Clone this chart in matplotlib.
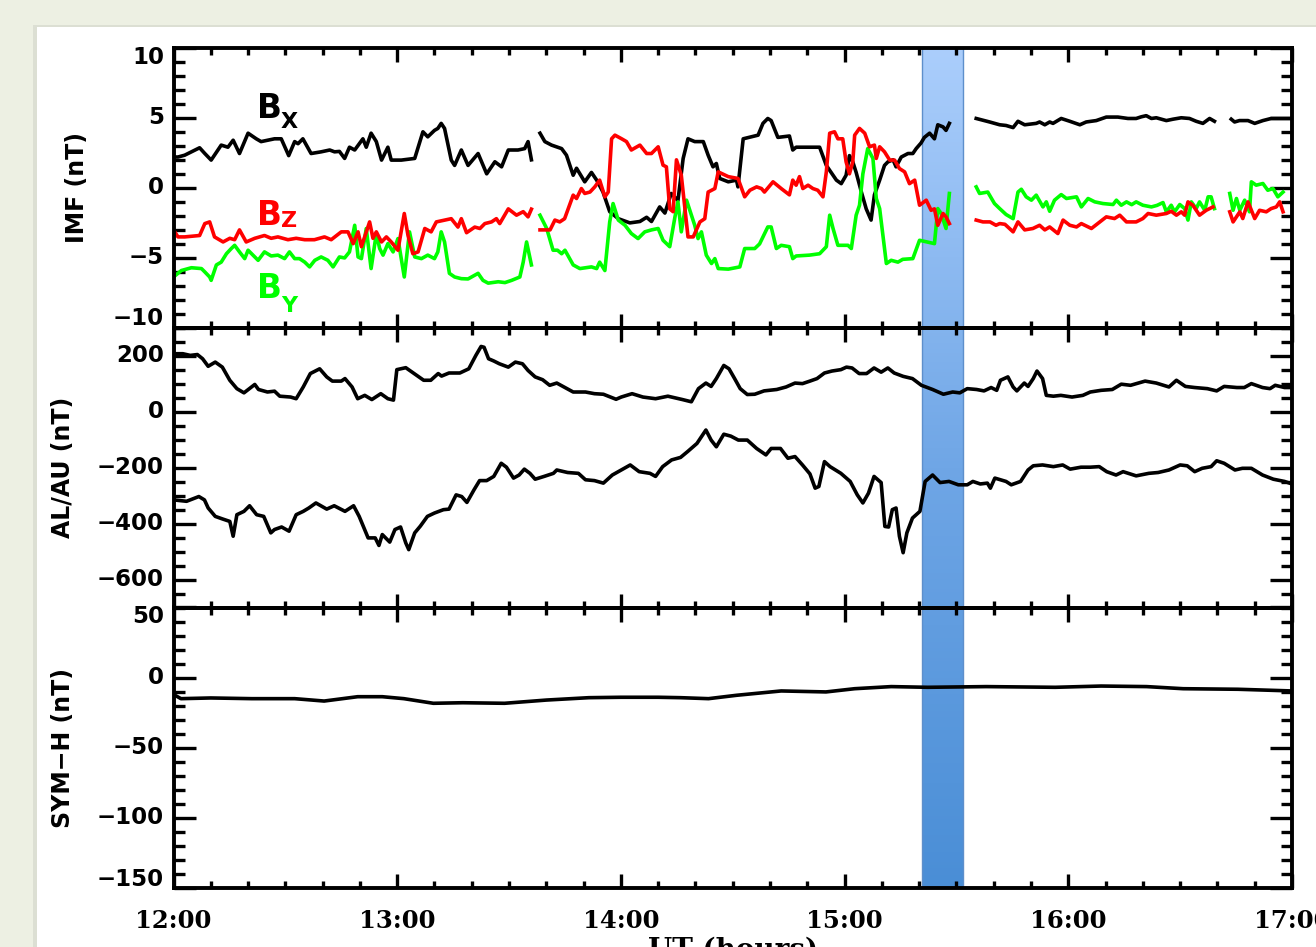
import numpy as np
import matplotlib
matplotlib.use('Agg')
import matplotlib.pyplot as plt
from matplotlib.ticker import MultipleLocator
from matplotlib.transforms import blended_transform_factory, ScaledTranslation
from matplotlib.patches import Rectangle
from matplotlib.colors import LinearSegmentedColormap

nan = np.nan

# ---------------- data (time in minutes after 12:00 UT) ----------------
bx_t = [0, 1.2, 3, 4.8, 7, 8.4, 10.1, 12.8, 14.6, 16, 17.7, 20, 22.2, 23.5, 27.1, 28.9, 30.9, 32.5, 33.4, 34.7,
        36.9, 39.6, 41.9, 43.2, 44.5, 45.9, 47.2, 48.6, 50.8, 51.7, 53, 54.4, 55.8, 57.5, 58.4, 61.1, 64.7, 66.9,
        68.2, 70, 70.9, 71.8, 72.7, 74.5, 75.4, 77.2, 79, 81.7, 84, 86.2, 88, 89.8, 92.4, 94.2, 95.1, 96, 97,
        98.3, 99.6, 101.4, 104.1, 105.4, 107.2, 108.1, 110.3, 112.1, 113.5, 115.2, 117, 119.3, 122.4, 125.1,
        126.9, 128.2, 130.4, 131.8, 133.5, 135.3, 136.7, 138, 139.8, 142.1, 143.4, 144.7, 145.6, 146.5, 148.8,
        151, 151.4, 152.8, 155, 156.8, 158.1, 159.4, 160.3, 162.1, 165.2, 166.1, 167, 173.3, 175.1, 177.8,
        179.1, 180.4, 181.3, 182.2, 183.1, 184.5, 185.8, 187.1, 188, 189.4, 190.7, 191.6, 193, 193.8, 195.2,
        197, 198.3, 199.2, 200.5, 201.4, 202.8, 204.1, 205, 206.4, 207.2, 208.1, 212,
        215.3, 218.9, 221.6, 223.3, 225.2, 226.5, 228.3, 231.4, 232.3, 233.7, 235, 235.9, 238.1, 240.4, 243.1,
        244.8, 247.5, 250.2, 253.3, 256, 258.2, 259.6, 260.9, 262.3, 263.6, 266.3, 268.1, 270.3, 272.5, 274.3,
        276.1, 277.9, 279.2, 281,
        283.7, 284.6, 285.9, 288.2, 290, 292.2, 294.4, 297.1, 300]
bx_v = [2.2, 2.2, 2.33, 2.57, 2.86, 2.45, 1.98, 3.05, 2.9, 3.4, 2.45, 3.9, 3.5, 3.3, 3.5, 3.5, 2.3, 3.3, 3.15, 3.5,
        2.45, 2.57, 2.7, 2.57, 2.6, 2.1, 2.9, 2.7, 3.5, 2.9, 3.9, 3.3, 1.98, 2.9, 1.98, 1.98, 2.1, 4.0,
        3.64, 4.1, 4.24, 4.6, 4.24, 1.98, 1.6, 2.7, 1.6, 2.45, 1.0, 1.86, 1.5, 2.7, 2.7, 2.8, 3.3, 2.0, nan,
        3.9, 3.3, 3.05, 2.8, 2.33, 0.9, 1.4, 0.43, 1.1, 0.55, -0.3, -1.7, -2.2, -2.5, -2.4,
        -2.1, -2.4, -1.36, -1.8, -0.4, -0.9, 2.1, 3.5, 3.3, 3.3, 2.33, 1.5, 1.74, 0.67, 0.43,
        0.55, 0.07, 3.5, 3.64, 3.76, 4.6, 4.95, 4.8, 3.6, 3.7, 2.7, 2.9, 2.9, 1.6, 0.55,
        0.3, 0.9, 2.3, 1.85, 1.1, -0.3, -1.5, -2.3, -0.5, 0.55, 1.6, 1.85, 2.0, 1.5, 2.2,
        2.45, 2.45, 2.8, 3.2, 3.6, 3.9, 3.5, 4.5, 4.35, 4.1, 4.6, nan,
        4.95, 4.7, 4.5, 4.45, 4.3, 4.75, 4.5, 4.6, 4.7, 4.5, 4.7, 4.6, 4.95, 4.75, 4.5,
        4.7, 4.8, 5.05, 5.05, 4.95, 4.95, 5.07, 5.15, 4.95, 5.0, 4.8, 4.9, 5.0, 4.95, 4.75,
        4.6, 4.95, 4.75, nan,
        4.9, 4.7, 4.8, 4.8, 4.6, 4.8, 4.95, 4.95, 4.95]

bz_t = [0, 1.2, 3, 7, 8.4, 9.7, 11, 13.3, 15.1, 16.4, 17.7, 19.5, 21.8, 24.4, 26.2, 28, 30.7, 32.9, 35.2, 37.8,
        40.5, 42.3, 45, 46.8, 48.2, 49.5, 50.4, 51.7, 52.6, 53.5, 54.4, 55.8, 57.1, 58.4, 60.2, 61.9, 62.9,
        64.2, 65.6, 67.4, 69.1, 70.5, 72.7, 74.5, 76.3, 77.2, 78.6, 80.8, 82.2, 83.5, 85.3, 86.6, 87.5, 89.8,
        92, 93.8, 95.1, 96, 97,
        98.3, 101, 102.3, 103.6, 104.9, 107.2, 108.1, 109.4, 110.3, 111.7, 113, 114.3, 115.7, 116.6, 117.5,
        118.4, 120.2, 121.5, 122.8, 125.1, 126.9, 128.2, 130, 131.3, 132.2, 133.1, 134, 134.9, 136.2, 138,
        139.4, 141.2, 142.5, 143.4, 145.2, 146.1, 148.8, 151.4, 153.2, 154.6, 156.4, 157.7, 158.5, 160.8, 163,
        165.2, 166.1, 167, 167.9, 168.8, 170.2, 171.5, 172.8, 174.2, 175.1, 176, 177.3, 178.2, 179.5, 180.4,
        181.3, 182.2, 182.7, 184, 185.4, 186.7, 188, 188.5, 189.4, 190.7, 192.1, 193.4, 194.7, 196.1, 197.4,
        198.8, 200.1, 201.9, 203.2, 204.1, 205, 206.4, 207.2, 208.1, 212,
        215.3, 217.1, 219, 220.6, 221.6, 223, 225.2, 226.5, 228.3, 230.5, 232.3, 233.7, 235, 237.2, 238.6,
        240.4, 242.2, 243.5, 246.2, 250.2, 252.4, 253.8, 255.6, 258.2, 260, 261.4, 263.6, 266.3, 267.6, 269,
        270.3, 271.2, 272.1, 273.4, 275.2, 277, 278.8, 281,
        283.3, 284.2, 286, 286.8, 288.2, 290, 291.3, 293.1, 294.4, 295.8, 296.7, 297.6]
bz_v = [-3.0, -3.5, -3.5, -3.4, -2.55, -2.43, -3.5, -3.86, -3.6, -3.7, -3.0, -3.86, -3.6, -3.4, -3.6, -3.5, -3.7,
        -3.6, -3.7, -3.7, -3.5, -3.7, -3.14, -3.14, -3.98, -3.14, -4.2, -3.14, -2.43, -3.6, -3.14, -3.86, -3.5,
        -3.86, -4.45, -1.83, -3.4, -4.7, -4.57, -2.9, -3.14, -2.43, -2.3, -2.2, -2.8, -2.2, -3.2, -2.8, -2.9,
        -2.55, -2.43, -2.2, -2.55, -1.5, -1.95, -1.7, -2.07, -1.52, nan,
        -3.0, -3.0, -2.3, -2.43, -2.2, -0.52, -0.76, -0.05, -0.4, -0.3, 0.07, 0.55, -0.64, -0.3, 3.5,
        3.76, 3.5, 3.3, 2.7, 3.05, 2.45, 2.45, 2.93, 1.62, 1.5, -1.5, -1.7, 2.0, 0.9, -3.5,
        -3.5, -2.43, -2.2, -0.3, -0.05, 1.14, 0.8, 0.67, -0.64, -0.17, 0.07, -0.05, -0.3, 0.43, -0.05,
        -0.5, 0.55, 0.19, 0.8, -0.05, 0.19, -0.05, -0.17, -0.64, 1.14, 3.9, 4.0, 3.5, 3.5, 1.86,
        1.0, 1.86, 3.76, 4.24, 3.9, 2.93, 3.05, 2.1, 2.93, 2.57, 1.98, 1.98, 1.38, 1.14, 0.3,
        0.55, -1.24, -0.88, -1.6, -1.5, -2.67, -1.83, -2.07, -2.55, nan,
        -2.3, -2.43, -2.43, -2.67, -2.55, -2.6, -3.14, -2.43, -3.0, -2.9, -2.67, -3.0, -2.79, -3.26, -2.3,
        -2.67, -2.79, -2.55, -2.9, -2.07, -2.19, -1.95, -2.43, -2.43, -2.19, -1.83, -1.95, -1.83, -1.67, -1.95,
        -1.71, -1.95, -1.0, -1.24, -1.95, -1.6, -1.36, nan,
        -1.71, -2.43, -1.71, -2.19, -1.0, -2.19, -1.6, -1.71, -1.48, -1.36, -1.0, -1.71]

by_t = [0, 2.1, 4.8, 7.5, 8.4, 9.7, 10.1, 11.5, 12.8, 14.2, 15.5, 16.4, 17.7, 19.1, 20, 21.3, 22.7, 24.4, 26.2,
        28, 29.8, 31.1, 32.5, 33.8, 35.2, 36.5, 37.9, 39.6, 41.4, 42.8, 44.5, 45.9, 47.2, 48.6, 49.5, 50.4,
        51.7, 53, 54.4, 55.3, 56.2, 57.5, 58.9, 60.2, 61.9, 63.3, 64.7, 66.5, 68.2, 70, 70.9, 71.8, 72.7, 74,
        75.4, 77.2, 79, 81.7, 83, 84.4, 87.1, 88.9, 90.7, 92.9, 93.8, 94.7, 96, 97,
        98.3, 100.1, 101.8, 103, 104.1, 105, 107.2, 109, 112.1, 113.5, 114.3, 115.7, 117, 117.9, 119.3, 121.1,
        122.8, 124.6, 126.4, 128.2, 130, 131.3, 133.1, 134.5, 135.3, 136.2, 137.6, 139.8, 140.7, 141.6, 142.9,
        144.3, 145.2, 146.1, 148.8, 151.9, 153.2, 155.9, 157.2, 159.4, 160.3, 161.7, 163, 165.2, 166.1, 167,
        170.6, 173.3, 175.1, 176, 176.9, 178.2, 180.9, 181.8, 183.1, 184, 184.9, 186.2, 187.6, 188.5, 189.4,
        191.2, 192.5, 194.3, 195.6, 198.3, 200.1, 204.1, 205, 205.9, 207.2, 208.1, 212,
        215.3, 216.2, 218.4, 220.2, 221.6, 223.3, 225.2, 226.5, 227.4, 228.7, 230.1, 231.4, 233.2, 234.1, 235,
        236.3, 238.1, 239.5, 242.2, 243.5, 245.3, 247.1, 249.3, 252, 252.9, 254.2, 255.6, 257, 258.2, 260,
        262.3, 263.8, 265.4, 266.3, 267.6, 268.5, 269.9, 271.2, 272.1, 273, 274.3, 275.2, 276.6, 277.5, 278.3,
        279.2, 281,
        283.3, 284.2, 285.1, 286, 287.3, 288.6, 289.1, 290.4, 292.2, 293.5, 294.9, 296.2, 297.6]
by_v = [-6.36, -5.9, -5.7, -5.76, -6.0, -6.36, -6.6, -5.5, -5.3, -4.7, -4.33, -4.1, -4.57, -5.05, -4.45, -4.8,
        -5.17, -4.57, -4.86, -4.8, -5.05, -4.57, -5.05, -5.05, -5.3, -5.64, -5.17, -4.93, -5.17, -5.64, -4.93,
        -5.0, -4.57, -2.67, -4.93, -5.05, -2.9, -5.76, -3.26, -4.33, -4.8, -3.98, -4.57, -3.62, -6.36, -3.14,
        -4.93, -5.05, -4.8, -5.05, -4.57, -3.14, -3.86, -6.1, -6.36, -6.48, -6.5, -6.1, -6.6, -6.8, -6.7, -6.76,
        -6.6, -6.36, -5.3, -3.86, -5.5, nan,
        -1.95, -2.9, -4.45, -4.45, -4.7, -4.45, -5.5, -5.76, -5.64, -5.76, -5.3, -5.9, -2.43, -1.12, -2.3, -2.67,
        -3.26, -3.62, -3.14, -3.0, -2.9, -3.74, -4.2, -2.07, -1.0, -3.14, -0.88, -2.67, -3.62, -3.14, -4.8,
        -5.4, -5.05, -5.76, -5.8, -5.64, -4.33, -4.33, -4.0, -2.79, -2.79, -4.33, -4.1, -4.2, -5.05, -4.86,
        -4.8, -4.7, -4.2, -1.95, -2.9, -4.1, -4.1, -4.33, -1.95, -1.24, 1.0, 2.8, 2.1, -0.76, -1.48,
        -5.4, -5.17, -5.3, -5.1, -5.05, -3.74, -3.98, -1.48, -1.83, -2.9, -0.4, nan,
        0.07, -0.4, -0.3, -1.12, -1.48, -1.9, -2.2, -0.3, -0.1, -0.64, -0.88, -0.52, -1.36, -1.0, -1.67,
        -0.88, -0.48, -0.76, -0.64, -1.36, -0.76, -1.0, -1.12, -1.19, -0.88, -1.24, -1.0, -1.2, -1.0, -1.24,
        -1.36, -1.25, -1.05, -1.71, -1.24, -1.71, -1.19, -1.48, -2.3, -1.0, -1.48, -1.0, -1.6, -0.64, -0.64,
        -1.48, nan,
        -0.4, -1.6, -0.76, -1.6, -0.88, -1.71, 0.43, 0.19, 0.31, -0.17, -0.05, -0.64, -0.3]

au_t = [0, 2.5, 4.5, 6.4, 7.8, 9.3, 11.2, 13.1, 15.1, 17, 18.9, 21.8, 22.8, 25.2, 27.1, 28.5, 31.4, 32.9, 34.8,
        36.7, 39.2, 41.1, 42.6, 45, 46, 47.9, 49.4, 51.3, 53.2, 55.6, 57.5, 59, 59.9, 62.3, 65.2, 67.1, 69, 71,
        71.9, 73.9, 76.8, 79.2, 81.1, 82.5, 83.3, 84.5, 85.9, 87.4, 89.8, 91.7, 93.6, 95.1, 97, 99, 100.9,
        102.8, 104.7, 107.2, 110.5, 112.9, 115.3, 118.7, 120.1, 123, 125.9, 129.3, 132.6, 136.5, 138.9, 140.8,
        142.8, 144.2, 145.6, 147.6, 149, 150.5, 152, 153.9, 155.9, 158.4, 161.8, 164.3, 166.7, 168.7, 170.7,
        172.6, 174.6, 176.6, 179, 180.5, 182, 183.9, 185.9, 187.9, 189.8, 191.6, 193.3, 195.7, 198.2, 200.6,
        203.6, 206.5, 209, 210.9, 212.9, 215.4, 217.4, 219.3, 220.8, 221.8, 223.8, 225.2, 226.2, 228.2, 229.2,
        230.6, 231.6, 233.1, 234.1, 236, 238, 241, 243.9, 245.9, 248.8, 251.8, 254.2, 256.7, 260.6, 263.6,
        267, 269, 271.4, 273.9, 277.3, 279.8, 281.8, 285.2, 287.2, 289.1, 292.1, 294.1, 295.5, 298, 300]
au_v = [208, 208, 202, 205, 190, 163, 178, 160, 113, 83, 68, 98, 80, 71, 74, 56, 53, 47, 89,
        137, 154, 125, 110, 110, 119, 89, 47, 59, 44, 65, 47, 42, 151, 158, 131, 113, 113, 137,
        128, 139, 139, 154, 202, 234, 231, 190, 182, 172, 160, 178, 172, 148, 125, 115, 95,
        103, 89, 71, 71, 65, 63, 45, 53, 65, 53, 47, 56, 44, 36, 83,
        103, 91, 119, 166, 154, 119, 83, 62, 63, 75, 80, 89, 103, 101, 110,
        119, 139, 146, 151, 160, 157, 137, 137, 157, 142, 157, 139, 127, 119, 95,
        80, 63, 71, 68, 83, 80, 75, 87, 77, 113, 125, 89, 75, 103, 91,
        119, 146, 119, 59, 56, 59, 53, 59, 71, 77, 80, 99, 95, 110, 103,
        89, 113, 91, 87, 83, 75, 91, 87, 87, 101, 87, 83, 95, 87, 87]

al_t = [0, 3.5, 6.8, 8.3, 9.3, 11.2, 13.1, 15.1, 16, 17, 18.9, 20.4, 22.3, 24.2, 26.1, 27.1, 29, 31, 32.9, 34.8,
        36.3, 38.2, 41.1, 43.1, 46, 48.3, 49.8, 52.2, 54.1, 55.1, 56, 58, 59.4, 60.9, 62.3, 63.1, 64.7, 66.2,
        68.1, 70, 72.4, 73.9, 75.8, 77.3, 78.7, 80.6, 82.1, 84, 85.9, 87.9, 89.3, 91.2, 92.7, 94.1, 95.6, 97,
        99.4, 101.9, 102.8, 105.7, 108.6, 110.5, 112.9, 115.3, 117.7, 120.1, 122.5, 124.9, 127.8, 129.3, 131.2,
        133.6, 136, 137.9, 140.4, 142.8, 144.2, 145.6, 147.6, 149.5, 151.5, 153.9, 156.4, 158.9, 160.3, 162.8,
        164.8, 166.7, 168.7, 170.7, 172.1, 173.1, 174.6, 176.1, 179, 181.5, 183.4, 184.9, 186.4, 187.9, 189.8,
        190.8, 191.8, 192.8, 193.8, 194.7, 195.7, 196.7, 198.2, 200.2, 201.6, 203.6, 205.6, 208, 210.5, 212.9,
        214.4, 216.4, 218.3, 219.1, 220.3, 223.3, 224.7, 227.2, 229.2, 230.6, 233.1, 236, 238.5, 240.5, 243.4,
        245.9, 248.3, 250.3, 252.8, 254.7, 258.2, 261.6, 264.1, 267, 270, 271.9, 273.9, 275.9, 278.3, 279.8,
        281.8, 284.7, 286.7, 289.1, 292.1, 295, 298, 300]
al_v = [-315, -320, -303, -315, -344, -374, -383, -392, -445, -368, -356, -336, -368, -374, -433, -421, -412, -427,
        -368, -356, -344, -326, -348, -336, -356, -336, -374, -451, -451, -478, -439, -466, -421, -412, -469,
        -493, -433, -409, -374, -362, -350, -348, -297, -303, -324, -279, -246, -246, -231, -184, -198, -237,
        -226, -205, -220, -241, -231, -220, -208, -217, -220, -243, -246, -255, -226, -208, -190, -214, -220,
        -231, -196, -172, -163, -142, -113, -65, -101, -125, -80, -87, -101, -101, -131, -154, -131, -131,
        -166, -160, -190, -222, -273, -267, -178, -196, -220, -249, -297, -326, -291, -231, -253,
        -410, -412, -350, -344, -445, -504, -433, -380, -356, -249, -226, -253, -249, -261, -261,
        -249, -258, -255, -273, -237, -249, -261, -249, -208, -193, -190, -196, -190, -205, -198,
        -198, -196, -214, -226, -214, -229, -220, -217, -208, -190, -193, -214, -202, -196, -175,
        -184, -208, -202, -202, -226, -241, -249, -258]

symh_t = [0, 2, 10, 21, 32.5, 40.4, 49.4, 56, 61.8, 69.7, 77.6, 88.8, 100, 111.4, 120, 130, 136, 143.5, 151,
          163, 175, 182.7, 192.5, 202.3, 218, 236.5, 248.8, 261, 270.8, 285.5, 300]
symh_v = [-12, -15, -14.5, -15, -15, -16.7, -13.6, -13.6, -15, -18.3, -17.9, -18.3, -16, -14.3, -14, -14, -14.3,
          -15, -12.6, -9.5, -10.2, -7.9, -6.4, -6.9, -6.4, -6.9, -6.0, -6.4, -7.9, -8.3, -9.5]

hour_ticks = [0, 60, 120, 180, 240, 300]
hour_labels = ['12:00', '13:00', '14:00', '15:00', '16:00', '17:00']
event_start, event_end = 200.7, 211.7

imf_ticks = [-10, -5, 0, 5, 10]
imf_labels = ['\u221210', '\u22125', '0', '5', '10']
al_ticks = [-600, -400, -200, 0, 200]
al_labels = ['\u2212600', '\u2212400', '\u2212200', '0', '200']
sym_ticks = [-150, -100, -50, 0, 50]
sym_labels = ['\u2212150', '\u2212100', '\u221250', '0', '50']

# ---------------- figure layout ----------------
W, H = 1316, 947
fig = plt.figure(figsize=(W / 100, H / 100), dpi=100, facecolor='#EDF0E3')

def fx(px):
    return px / W

def fy(py):
    return 1 - py / H

# slide panel (white) with soft shadow
fig.patches.append(Rectangle((fx(33), 0), 1, fy(25), transform=fig.transFigure,
                             facecolor='#DCDFD3', edgecolor='none', zorder=-20))
fig.patches.append(Rectangle((fx(37), 0), 1, fy(27), transform=fig.transFigure,
                             facecolor='white', edgecolor='none', zorder=-19))

L, R = 173.5, 1292
edges = [47.7, 328, 607.5, 888]

# shaded interval behind all panels
bax = fig.add_axes([fx(L), fy(edges[3]), (R - L) / W, (edges[3] - edges[0]) / H], zorder=-5)
bax.set_xlim(0, 300)
bax.set_ylim(0, 1)
bax.axis('off')
cmap = LinearSegmentedColormap.from_list('band', ['#4A8ED6', '#6FA6E6', '#ABCEFC'])
grad = np.linspace(0, 1, 256).reshape(-1, 1)
bax.imshow(grad, extent=(event_start, event_end, 0, 1), origin='lower', aspect='auto', cmap=cmap)
for xe in (event_start, event_end):
    bax.plot([xe, xe], [0, 1], color='#5E8FCB', lw=1.0)

axes = []
for i in range(3):
    top, bot = edges[i], edges[i + 1]
    ax = fig.add_axes([fx(L), fy(bot), (R - L) / W, (bot - top) / H], zorder=1)
    ax.set_facecolor('none')
    ax.set_xlim(0, 300)
    axes.append(ax)

lw = 2.6
ax1, ax2, ax3 = axes
ax1.plot(bx_t, bx_v, color='black', lw=lw)
ax1.plot(by_t, by_v, color='#00FF00', lw=lw)
ax1.plot(bz_t, bz_v, color='#FF0000', lw=lw)
ax1.set_ylim(-10, 10)
ax2.plot(au_t, au_v, color='black', lw=lw)
ax2.plot(al_t, al_v, color='black', lw=lw)
ax2.set_ylim(-700, 300)
ax3.plot(symh_t, symh_v, color='black', lw=lw)
ax3.set_ylim(-150, 50)

ylocs = [(imf_ticks, 5, 1, imf_labels), (al_ticks, 200, 50, al_labels), (sym_ticks, 50, 10, sym_labels)]
shift = [{10: -10, -10: 10}, {}, {50: -9, -150: 8}]
ytitles = ['IMF (nT)', 'AL/AU (nT)', 'SYM\u2212H (nT)']
ytitle_x = [77, 63, 63]

for i, ax in enumerate(axes):
    ticks, maj, mnr, labels = ylocs[i]
    for s in ax.spines.values():
        s.set_linewidth(2.8)
    ax.xaxis.set_major_locator(plt.FixedLocator(hour_ticks))
    ax.xaxis.set_minor_locator(MultipleLocator(10))
    ax.yaxis.set_major_locator(MultipleLocator(maj))
    ax.yaxis.set_minor_locator(MultipleLocator(mnr))
    ax.tick_params(axis='both', which='both', direction='in', top=True, right=True,
                   labelleft=False, labelbottom=False, color='black')
    ax.tick_params(axis='x', which='major', length=10, width=2.4)
    ax.tick_params(axis='x', which='minor', length=5, width=2.4)
    ax.tick_params(axis='y', which='major', length=16, width=2.4)
    ax.tick_params(axis='y', which='minor', length=8, width=2.4)
    for tv, tl in zip(ticks, labels):
        dy = shift[i].get(tv, 0)
        tr = blended_transform_factory(ax.transAxes, ax.transData) + \
            ScaledTranslation(-0.095, dy / 100.0, fig.dpi_scale_trans)
        ax.text(0, tv, tl, transform=tr, ha='right', va='center', fontsize=16.5,
                fontweight='bold', family='DejaVu Sans')
    yc = (edges[i] + edges[i + 1]) / 2
    fig.text(fx(ytitle_x[i]), fy(yc), ytitles[i], rotation=90, ha='center', va='center',
             fontsize=17, fontweight='bold', family='DejaVu Sans')

ax3.set_xticks(hour_ticks)
ax3.set_xticklabels(hour_labels, family='DejaVu Serif', fontweight='bold', fontsize=17.5)
ax3.tick_params(axis='x', which='major', labelbottom=True, pad=15)

fig.text(fx(733), fy(937), 'UT (hours)', ha='center', va='top', fontsize=20,
         fontweight='bold', family='DejaVu Serif')

# component labels
comp = [('X', 'black', 118, 128), ('Z', '#FF0000', 225, 227), ('Y', '#00FF00', 298, 312)]
for sub, col, base_b, base_s in comp:
    fig.text(fx(257), fy(base_b), 'B', color=col, fontsize=23.5, fontweight='bold',
             family='DejaVu Sans', ha='left', va='baseline')
    fig.text(fx(281), fy(base_s), sub, color=col, fontsize=16, fontweight='bold',
             family='DejaVu Sans', ha='left', va='baseline')

fig.savefig('out.png', dpi=100, facecolor=fig.get_facecolor())
